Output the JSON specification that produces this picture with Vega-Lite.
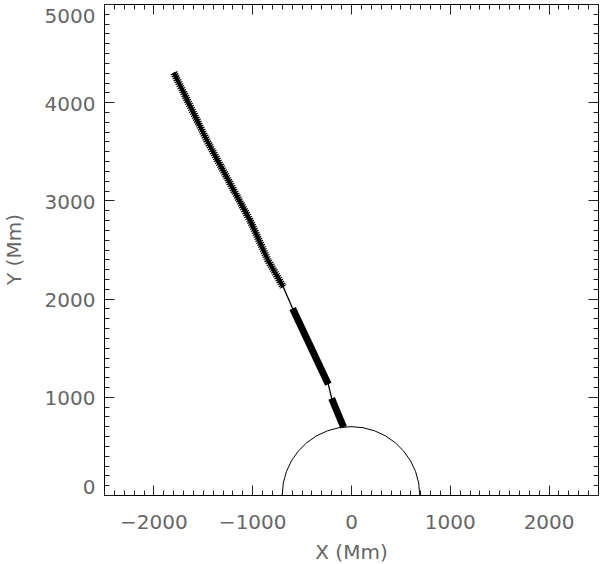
{
  "$schema": "https://vega.github.io/schema/vega-lite/v6.json",
  "width": 494,
  "height": 491,
  "autosize": {"type": "none"},
  "padding": {"left": 104, "top": 4, "right": 2, "bottom": 69},
  "background": "white",
  "config": {
    "view": {"stroke": "#000", "strokeWidth": 1},
    "axis": {
      "grid": false,
      "domain": false,
      "labelFont": "DejaVu Sans",
      "labelFontSize": 20,
      "labelColor": "#666",
      "titleFont": "DejaVu Sans",
      "titleFontSize": 20,
      "titleFontWeight": "normal",
      "titleColor": "#666",
      "tickColor": "#222",
      "tickWidth": 1,
      "labelOverlap": false,
      "format": "d"
    }
  },
  "datasets": {
    "sun": [
      {"ord": 0, "x": 696, "y": 0},
      {"ord": 1, "x": 685.4, "y": 120.9},
      {"ord": 2, "x": 654.0, "y": 238.0},
      {"ord": 3, "x": 602.8, "y": 348.0},
      {"ord": 4, "x": 533.2, "y": 447.4},
      {"ord": 5, "x": 447.4, "y": 533.2},
      {"ord": 6, "x": 348.0, "y": 602.8},
      {"ord": 7, "x": 238.0, "y": 654.0},
      {"ord": 8, "x": 120.9, "y": 685.4},
      {"ord": 9, "x": 0, "y": 696},
      {"ord": 10, "x": -120.9, "y": 685.4},
      {"ord": 11, "x": -238.0, "y": 654.0},
      {"ord": 12, "x": -348.0, "y": 602.8},
      {"ord": 13, "x": -447.4, "y": 533.2},
      {"ord": 14, "x": -533.2, "y": 447.4},
      {"ord": 15, "x": -602.8, "y": 348.0},
      {"ord": 16, "x": -654.0, "y": 238.0},
      {"ord": 17, "x": -685.4, "y": 120.9},
      {"ord": 18, "x": -696, "y": 0}
    ],
    "path": [
      {"ord": 1, "x": -1793, "y": 4300},
      {"ord": 2, "x": -1459, "y": 3611},
      {"ord": 3, "x": -1023, "y": 2798},
      {"ord": 4, "x": -841, "y": 2391},
      {"ord": 5, "x": -686, "y": 2119},
      {"ord": 6, "x": -591, "y": 1899},
      {"ord": 7, "x": -230, "y": 1129},
      {"ord": 8, "x": -196, "y": 984},
      {"ord": 9, "x": -75, "y": 690}
    ],
    "hair": [
      {"ord": 1, "x": -1793, "y": 4300},
      {"ord": 2, "x": -1459, "y": 3611},
      {"ord": 3, "x": -1023, "y": 2798},
      {"ord": 4, "x": -841, "y": 2391},
      {"ord": 5, "x": -686, "y": 2119}
    ],
    "thick": [
      {"seg": "a", "ord": 1, "x": -591, "y": 1899},
      {"seg": "a", "ord": 2, "x": -230, "y": 1129},
      {"seg": "b", "ord": 1, "x": -196, "y": 984},
      {"seg": "b", "ord": 2, "x": -75, "y": 690}
    ]
  },
  "resolve": {"axis": {"x": "independent", "y": "independent"}},
  "layer": [
    {
      "data": {"name": "sun"},
      "mark": {"type": "line", "color": "#000", "strokeWidth": 1},
      "encoding": {
        "x": {"field": "x", "type": "quantitative",
          "scale": {"domain": [-2500, 2500], "nice": false, "zero": false},
          "axis": {"orient": "bottom", "values": [-2000, -1000, 0, 1000, 2000], "ticks": false, "labelPadding": 17, "labelFlush": false,
            "title": "X (Mm)", "titleX": 247, "titleY": 57, "titleBaseline": "middle", "titleAlign": "center"}},
        "y": {"field": "y", "type": "quantitative",
          "scale": {"domain": [0, 5000], "nice": false, "zero": false},
          "axis": {"orient": "left", "values": [0, 1000, 2000, 3000, 4000, 5000], "ticks": false, "labelPadding": 9, "labelFlush": true, "labelOffset": 2,
            "title": "Y (Mm)", "titleX": -90, "titleY": 245, "titleBaseline": "middle", "titleAlign": "center", "titleAngle": -90}},
        "order": {"field": "ord", "type": "quantitative"}
      }
    },
    {
      "data": {"name": "path"},
      "mark": {"type": "line", "color": "#000", "strokeWidth": 1.3},
      "encoding": {
        "x": {"field": "x", "type": "quantitative",
          "axis": {"orient": "bottom", "labels": false, "title": null, "tickSize": -5,
            "values": [-2500,-2400,-2300,-2200,-2100,-2000,-1900,-1800,-1700,-1600,-1500,-1400,-1300,-1200,-1100,-1000,-900,-800,-700,-600,-500,-400,-300,-200,-100,0,100,200,300,400,500,600,700,800,900,1000,1100,1200,1300,1400,1500,1600,1700,1800,1900,2000,2100,2200,2300,2400,2500]}},
        "y": {"field": "y", "type": "quantitative",
          "axis": {"orient": "left", "labels": false, "title": null, "tickSize": -5,
            "values": [0,100,200,300,400,500,600,700,800,900,1000,1100,1200,1300,1400,1500,1600,1700,1800,1900,2000,2100,2200,2300,2400,2500,2600,2700,2800,2900,3000,3100,3200,3300,3400,3500,3600,3700,3800,3900,4000,4100,4200,4300,4400,4500,4600,4700,4800,4900,5000]}},
        "order": {"field": "ord", "type": "quantitative"}
      }
    },
    {
      "data": {"name": "hair"},
      "mark": {"type": "line", "color": "#000", "strokeWidth": 7.5, "strokeDash": [1.2, 1], "strokeCap": "butt"},
      "encoding": {
        "x": {"field": "x", "type": "quantitative",
          "axis": {"orient": "bottom", "labels": false, "title": null, "tickSize": -10,
            "values": [-2000, -1000, 0, 1000, 2000]}},
        "y": {"field": "y", "type": "quantitative",
          "axis": {"orient": "left", "labels": false, "title": null, "tickSize": -10,
            "values": [0, 1000, 2000, 3000, 4000, 5000]}},
        "order": {"field": "ord", "type": "quantitative"}
      }
    },
    {
      "data": {"name": "hair"},
      "mark": {"type": "line", "color": "#000", "strokeWidth": 4},
      "encoding": {
        "x": {"field": "x", "type": "quantitative",
          "axis": {"orient": "top", "labels": false, "title": null, "tickSize": -5,
            "values": [-2500,-2400,-2300,-2200,-2100,-2000,-1900,-1800,-1700,-1600,-1500,-1400,-1300,-1200,-1100,-1000,-900,-800,-700,-600,-500,-400,-300,-200,-100,0,100,200,300,400,500,600,700,800,900,1000,1100,1200,1300,1400,1500,1600,1700,1800,1900,2000,2100,2200,2300,2400,2500]}},
        "y": {"field": "y", "type": "quantitative",
          "axis": {"orient": "right", "labels": false, "title": null, "tickSize": -5,
            "values": [0,100,200,300,400,500,600,700,800,900,1000,1100,1200,1300,1400,1500,1600,1700,1800,1900,2000,2100,2200,2300,2400,2500,2600,2700,2800,2900,3000,3100,3200,3300,3400,3500,3600,3700,3800,3900,4000,4100,4200,4300,4400,4500,4600,4700,4800,4900,5000]}},
        "order": {"field": "ord", "type": "quantitative"}
      }
    },
    {
      "data": {"name": "thick"},
      "mark": {"type": "line", "color": "#000", "strokeWidth": 7, "strokeCap": "butt"},
      "encoding": {
        "x": {"field": "x", "type": "quantitative",
          "axis": {"orient": "top", "labels": false, "title": null, "tickSize": -10,
            "values": [-2000, -1000, 0, 1000, 2000]}},
        "y": {"field": "y", "type": "quantitative",
          "axis": {"orient": "right", "labels": false, "title": null, "tickSize": -10,
            "values": [0, 1000, 2000, 3000, 4000, 5000]}},
        "detail": {"field": "seg", "type": "nominal"},
        "order": {"field": "ord", "type": "quantitative"}
      }
    }
  ]
}
